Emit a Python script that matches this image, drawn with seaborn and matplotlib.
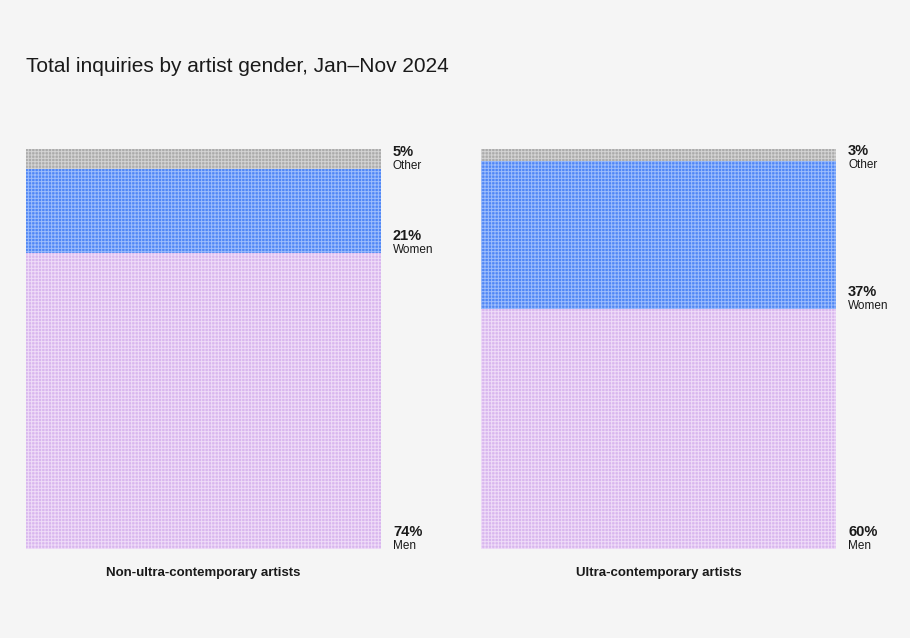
import matplotlib
matplotlib.use("Agg")
import matplotlib.pyplot as plt
import seaborn as sns
import pandas as pd

# data
groups = ["Non-ultra-contemporary artists", "Ultra-contemporary artists"]
men = [74, 60]
women = [21, 37]
other = [5, 3]
genders = ["Men", "Women", "Other"]

BG = "#f5f5f5"
COLORS = {"Other": ("#ababab", "#d4d4d4"),
          "Women": ("#4f86f6", "#9dbdfb"),
          "Men": ("#d8b6ee", "#efdcf8")}

sns.set_theme(style="white")
plt.rcParams["font.family"] = ["Liberation Sans", "DejaVu Sans"]
plt.rcParams["hatch.linewidth"] = 0.7

df = pd.DataFrame({"group": groups, "Men": men, "Women": women, "Other": other})
df["men_women"] = df["Men"] + df["Women"]
df["total"] = df["men_women"] + df["Other"]

fig = plt.figure(figsize=(9.1, 6.38), dpi=100, facecolor=BG)
ax = fig.add_axes([26 / 910, 89 / 638, 810 / 910, 400 / 638])
ax.set_facecolor(BG)

# stacked bars drawn as overlapping cumulative bars
for col, key in [("total", "Other"), ("men_women", "Women"), ("Men", "Men")]:
    base, light = COLORS[key]
    sns.barplot(data=df, x="group", y=col, color=base, width=0.78,
                saturation=1, hatch="+++++", edgecolor=light,
                linewidth=0, ax=ax)

ax.set_xlim(-0.39, 1.39)
ax.set_ylim(0, 100)
ax.set_xlabel("")
ax.set_ylabel("")
ax.set_yticks([])
ax.tick_params(axis="x", length=0, pad=13)
for lbl in ax.get_xticklabels():
    lbl.set_fontsize(9.5)
    lbl.set_fontweight("semibold")
    lbl.set_color("#1a1a1a")
sns.despine(ax=ax, left=True, bottom=True)

# value labels to the right of each bar
for i in range(len(groups)):
    bottoms = {"Men": 0, "Women": men[i], "Other": men[i] + women[i]}
    vals = {"Men": men[i], "Women": women[i], "Other": other[i]}
    for g in genders:
        y = min(bottoms[g], 100 - 4.8)
        ax.annotate(g, xy=(i + 0.39, y), xytext=(12, 0),
                    textcoords="offset pixels", va="baseline", ha="left",
                    fontsize=8.5, color="#1a1a1a", annotation_clip=False)
        ax.annotate(f"{vals[g]}%", xy=(i + 0.39, y), xytext=(12, 13),
                    textcoords="offset pixels", va="baseline", ha="left",
                    fontsize=10.5, fontweight="bold", color="#1a1a1a",
                    annotation_clip=False)

fig.text(26 / 910, 1 - 72 / 638, "Total inquiries by artist gender, Jan\u2013Nov 2024",
         fontsize=15, color="#1a1a1a", ha="left", va="baseline")

fig.savefig("out.png", dpi=100, facecolor=BG)
